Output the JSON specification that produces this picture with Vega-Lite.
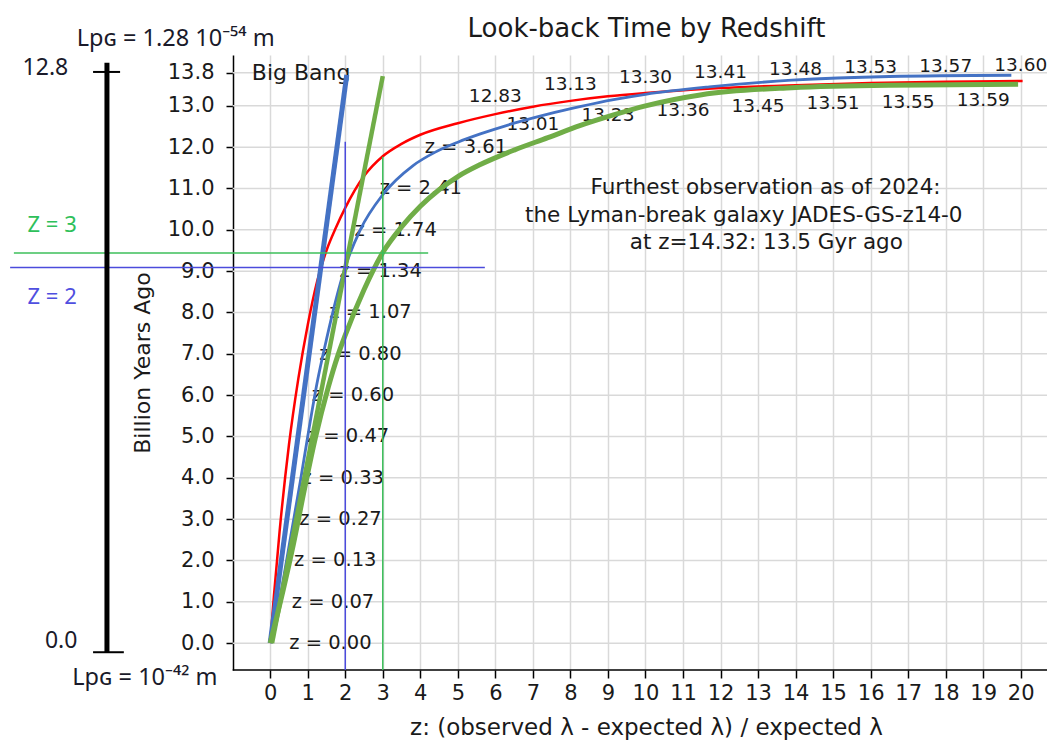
{
  "$schema": "https://vega.github.io/schema/vega-lite/v6.json",
  "width": 1047,
  "height": 615,
  "autosize": {"type": "none"},
  "padding": {"left": 0, "top": 55, "right": 0, "bottom": 70},
  "background": "white",
  "title": {"text": "Look-back Time by Redshift", "frame": "group", "anchor": "middle", "dx": 123, "offset": -15, "fontSize": 26, "font": "DejaVu Sans", "fontWeight": "normal", "color": "#1a1a1a"},
  "config": {"view": {"stroke": null}, "font": "DejaVu Sans"},
  "datasets": {
    "curves": [
      {"s": "red", "z": 0, "t": 0}, {"s": "red", "z": 0.1, "t": 1.15}, {"s": "red", "z": 0.25, "t": 2.7}, {"s": "red", "z": 0.5, "t": 4.8}, {"s": "red", "z": 0.75, "t": 6.4}, {"s": "red", "z": 1.0, "t": 7.7}, {"s": "red", "z": 1.25, "t": 8.75}, {"s": "red", "z": 1.5, "t": 9.5}, {"s": "red", "z": 1.75, "t": 10.05}, {"s": "red", "z": 2.0, "t": 10.53}, {"s": "red", "z": 2.5, "t": 11.3}, {"s": "red", "z": 3.0, "t": 11.78}, {"s": "red", "z": 3.5, "t": 12.08}, {"s": "red", "z": 4.0, "t": 12.3}, {"s": "red", "z": 5.0, "t": 12.58}, {"s": "red", "z": 6.0, "t": 12.8}, {"s": "red", "z": 7.0, "t": 12.98}, {"s": "red", "z": 8.0, "t": 13.12}, {"s": "red", "z": 9.0, "t": 13.23}, {"s": "red", "z": 10.0, "t": 13.31}, {"s": "red", "z": 12.0, "t": 13.43}, {"s": "red", "z": 14.0, "t": 13.5}, {"s": "red", "z": 16.0, "t": 13.55}, {"s": "red", "z": 18.0, "t": 13.58}, {"s": "red", "z": 20.05, "t": 13.6},
      {"s": "blue", "z": 0, "t": 0}, {"s": "blue", "z": 0.3, "t": 1.3}, {"s": "blue", "z": 0.55, "t": 2.6}, {"s": "blue", "z": 0.8, "t": 3.9}, {"s": "blue", "z": 1.0, "t": 5.0}, {"s": "blue", "z": 1.25, "t": 6.3}, {"s": "blue", "z": 1.5, "t": 7.35}, {"s": "blue", "z": 1.75, "t": 8.3}, {"s": "blue", "z": 2.0, "t": 9.1}, {"s": "blue", "z": 2.4, "t": 10.0}, {"s": "blue", "z": 3.0, "t": 10.85}, {"s": "blue", "z": 3.8, "t": 11.55}, {"s": "blue", "z": 4.4, "t": 11.88}, {"s": "blue", "z": 5.0, "t": 12.12}, {"s": "blue", "z": 5.6, "t": 12.32}, {"s": "blue", "z": 6.5, "t": 12.58}, {"s": "blue", "z": 7.4, "t": 12.8}, {"s": "blue", "z": 8.25, "t": 12.98}, {"s": "blue", "z": 9.15, "t": 13.15}, {"s": "blue", "z": 10.0, "t": 13.28}, {"s": "blue", "z": 11.7, "t": 13.46}, {"s": "blue", "z": 13.9, "t": 13.62}, {"s": "blue", "z": 16.5, "t": 13.71}, {"s": "blue", "z": 19.75, "t": 13.74},
      {"s": "green", "z": 0, "t": 0}, {"s": "green", "z": 0.35, "t": 1.3}, {"s": "green", "z": 0.62, "t": 2.4}, {"s": "green", "z": 0.93, "t": 3.8}, {"s": "green", "z": 1.2, "t": 4.95}, {"s": "green", "z": 1.55, "t": 6.2}, {"s": "green", "z": 1.8, "t": 6.95}, {"s": "green", "z": 2.0, "t": 7.45}, {"s": "green", "z": 2.5, "t": 8.55}, {"s": "green", "z": 3.0, "t": 9.45}, {"s": "green", "z": 3.5, "t": 10.07}, {"s": "green", "z": 4.0, "t": 10.57}, {"s": "green", "z": 4.5, "t": 10.97}, {"s": "green", "z": 5.0, "t": 11.29}, {"s": "green", "z": 5.6, "t": 11.58}, {"s": "green", "z": 6.5, "t": 11.93}, {"s": "green", "z": 7.4, "t": 12.23}, {"s": "green", "z": 8.25, "t": 12.52}, {"s": "green", "z": 9.15, "t": 12.78}, {"s": "green", "z": 10.0, "t": 13.0}, {"s": "green", "z": 11.5, "t": 13.27}, {"s": "green", "z": 13.9, "t": 13.44}, {"s": "green", "z": 16.5, "t": 13.5}, {"s": "green", "z": 19.93, "t": 13.52},
      {"s": "blueLine", "z": 0, "t": 0}, {"s": "blueLine", "z": 2.04, "t": 13.75},
      {"s": "greenLine", "z": 0.05, "t": 0}, {"s": "greenLine", "z": 3.0, "t": 13.72}
    ],
    "zlabels": [
      {"z": 0.00, "t": 0, "label": "z = 0.00"}, {"z": 0.07, "t": 1, "label": "z = 0.07"}, {"z": 0.13, "t": 2, "label": "z = 0.13"}, {"z": 0.27, "t": 3, "label": "z = 0.27"}, {"z": 0.33, "t": 4, "label": "z = 0.33"}, {"z": 0.47, "t": 5, "label": "z = 0.47"}, {"z": 0.60, "t": 6, "label": "z = 0.60"}, {"z": 0.80, "t": 7, "label": "z = 0.80"}, {"z": 1.07, "t": 8, "label": "z = 1.07"}, {"z": 1.34, "t": 9, "label": "z = 1.34"}, {"z": 1.74, "t": 10, "label": "z = 1.74"}, {"z": 2.41, "t": 11, "label": "z = 2.41"}, {"z": 3.61, "t": 12, "label": "z = 3.61"}
    ],
    "tlabels": [
      {"z": 6, "t": 12.83, "pos": "above"}, {"z": 7, "t": 13.01, "pos": "below"}, {"z": 8, "t": 13.13, "pos": "above"}, {"z": 9, "t": 13.23, "pos": "below"}, {"z": 10, "t": 13.30, "pos": "above"}, {"z": 11, "t": 13.36, "pos": "below"}, {"z": 12, "t": 13.41, "pos": "above"}, {"z": 13, "t": 13.45, "pos": "below"}, {"z": 14, "t": 13.48, "pos": "above"}, {"z": 15, "t": 13.51, "pos": "below"}, {"z": 16, "t": 13.53, "pos": "above"}, {"z": 17, "t": 13.55, "pos": "below"}, {"z": 18, "t": 13.57, "pos": "above"}, {"z": 19, "t": 13.59, "pos": "below"}, {"z": 20, "t": 13.60, "pos": "above"}
    ],
    "note": [
      {"z": 13.2, "t": 11.01, "label": "Furthest observation as of 2024:"},
      {"z": 12.62, "t": 10.34, "label": "the Lyman-break galaxy JADES-GS-z14-0"},
      {"z": 13.22, "t": 9.68, "label": "at z=14.32: 13.5 Gyr ago"}
    ],
    "gridY": [
      {"t": 0, "z": -1, "z2": 20.7}, {"t": 1, "z": -1, "z2": 20.7}, {"t": 2, "z": -1, "z2": 20.7}, {"t": 3, "z": -1, "z2": 20.7}, {"t": 4, "z": -1, "z2": 20.7}, {"t": 5, "z": -1, "z2": 20.7}, {"t": 6, "z": -1, "z2": 20.7}, {"t": 7, "z": -1, "z2": 20.7}, {"t": 8, "z": -1, "z2": 20.7}, {"t": 9, "z": -1, "z2": 20.7}, {"t": 10, "z": -1, "z2": 20.7}, {"t": 11, "z": -1, "z2": 20.7}, {"t": 12, "z": -1, "z2": 20.7}, {"t": 13, "z": -1, "z2": 20.7}, {"t": 13.8, "z": -1, "z2": 20.7}
    ],
    "xAxisLine": [{"t": -0.65, "z": -1, "z2": 20.7}],
    "marks": [
      {"k": "green", "z": -6.83, "z2": 4.21, "t": 9.44, "t2": 9.44},
      {"k": "green", "z": 3, "z2": 3, "t": -0.65, "t2": 11.77},
      {"k": "blue", "z": -6.93, "z2": 5.72, "t": 9.09, "t2": 9.09},
      {"k": "blue", "z": 2, "z2": 2, "t": -0.65, "t2": 12.13}
    ],
    "bar": [{"z": -4.35, "z2": -4.35, "t": -0.22, "t2": 14.04}],
    "crossbars": [
      {"z": -4.72, "z2": -4.0, "t": 13.82, "t2": 13.82},
      {"z": -4.72, "z2": -3.9, "t": -0.22, "t2": -0.22}
    ],
    "leftText": [
      {"z": -5.99, "t": 13.92, "label": "12.8", "size": "big"},
      {"z": -5.57, "t": 0.05, "label": "0.0", "size": "big"},
      {"z": -2.52, "t": 14.62, "label": "Lpɢ = 1.28 10⁻⁵⁴ m", "size": "small"},
      {"z": -3.34, "t": -0.85, "label": "Lpɢ = 10⁻⁴² m", "size": "small"}
    ],
    "zmarks": [
      {"z": -5.81, "t": 10.12, "label": "Z = 3", "k": "green"},
      {"z": -5.81, "t": 8.38, "label": "Z = 2", "k": "blue"}
    ]
  },
  "encoding": {
    "x": {
      "field": "z", "type": "quantitative",
      "scale": {"domain": [-7.2, 20.7], "nice": false, "zero": false},
      "axis": {
        "values": [0, 1, 2, 3, 4, 5, 6, 7, 8, 9, 10, 11, 12, 13, 14, 15, 16, 17, 18, 19, 20],
        "format": "d", "domain": false, "grid": true, "gridColor": "#d9d9d9", "gridWidth": 1.5,
        "tickSize": 8, "tickColor": "#000", "tickWidth": 1.5, "labelFontSize": 21, "labelColor": "#1a1a1a", "labelPadding": 4,
        "labelFont": "DejaVu Sans",
        "title": "z: (observed λ - expected λ) / expected λ", "titleFontSize": 23, "titleFontWeight": "normal", "titleColor": "#1a1a1a",
        "titleFont": "DejaVu Sans", "titleX": 646, "titlePadding": 13
      }
    },
    "y": {
      "field": "t", "type": "quantitative",
      "scale": {"domain": [-0.65, 14.23], "nice": false, "zero": false},
      "axis": {
        "values": [0, 1, 2, 3, 4, 5, 6, 7, 8, 9, 10, 11, 12, 13, 13.8],
        "format": ".1f", "offset": -233, "grid": false, "domainColor": "#000", "domainWidth": 1.5,
        "tickSize": 7, "tickColor": "#000", "tickWidth": 1.5, "labelFontSize": 21, "labelColor": "#1a1a1a", "labelPadding": 12,
        "labelFont": "DejaVu Sans",
        "title": "Billion Years Ago", "titleFontSize": 22, "titleFontWeight": "normal", "titleColor": "#1a1a1a",
        "titleFont": "DejaVu Sans", "titlePadding": 13
      }
    }
  },
  "layer": [
    {
      "data": {"name": "gridY"},
      "mark": {"type": "rule", "color": "#d9d9d9", "strokeWidth": 1.5},
      "encoding": {"x2": {"field": "z2"}}
    },
    {
      "data": {"name": "xAxisLine"},
      "mark": {"type": "rule", "color": "#000", "strokeWidth": 1.5},
      "encoding": {"x2": {"field": "z2"}}
    },
    {
      "data": {"name": "zlabels"},
      "mark": {"type": "text", "align": "left", "baseline": "middle", "dx": 19, "fontSize": 19.5, "color": "#1a1a1a", "font": "DejaVu Sans"},
      "encoding": {"text": {"field": "label"}}
    },
    {
      "data": {"name": "tlabels"},
      "transform": [{"filter": "datum.pos == 'above'"}],
      "mark": {"type": "text", "align": "center", "baseline": "middle", "dy": -16.5, "fontSize": 18.5, "color": "#1a1a1a", "font": "DejaVu Sans"},
      "encoding": {"text": {"field": "t", "format": ".2f"}}
    },
    {
      "data": {"name": "tlabels"},
      "transform": [{"filter": "datum.pos == 'below'"}],
      "mark": {"type": "text", "align": "center", "baseline": "middle", "dy": 18.6, "fontSize": 18.5, "color": "#1a1a1a", "font": "DejaVu Sans"},
      "encoding": {"text": {"field": "t", "format": ".2f"}}
    },
    {
      "data": {"values": [{"z": -0.49, "t": 13.8, "label": "Big Bang"}]},
      "mark": {"type": "text", "align": "left", "baseline": "middle", "fontSize": 22, "color": "#1a1a1a", "font": "DejaVu Sans"},
      "encoding": {"text": {"field": "label"}}
    },
    {
      "data": {"name": "note"},
      "mark": {"type": "text", "align": "center", "baseline": "middle", "fontSize": 21.5, "color": "#1a1a1a", "font": "DejaVu Sans"},
      "encoding": {"text": {"field": "label"}}
    },
    {
      "data": {"name": "curves"},
      "transform": [{"filter": "datum.s == 'red'"}],
      "mark": {"type": "line", "color": "#ff0000", "strokeWidth": 2.5, "interpolate": "monotone"}
    },
    {
      "data": {"name": "curves"},
      "transform": [{"filter": "datum.s == 'blue'"}],
      "mark": {"type": "line", "color": "#4472c4", "strokeWidth": 2.8, "interpolate": "monotone"}
    },
    {
      "data": {"name": "curves"},
      "transform": [{"filter": "datum.s == 'blueLine'"}],
      "mark": {"type": "line", "color": "#4472c4", "strokeWidth": 5}
    },
    {
      "data": {"name": "curves"},
      "transform": [{"filter": "datum.s == 'green'"}],
      "mark": {"type": "line", "color": "#70ad47", "strokeWidth": 5, "interpolate": "monotone"}
    },
    {
      "data": {"name": "curves"},
      "transform": [{"filter": "datum.s == 'greenLine'"}],
      "mark": {"type": "line", "color": "#70ad47", "strokeWidth": 4.5}
    },
    {
      "data": {"name": "marks"},
      "transform": [{"filter": "datum.k == 'green'"}],
      "mark": {"type": "rule", "color": "#3cbf5a", "strokeWidth": 1.5},
      "encoding": {"x2": {"field": "z2"}, "y2": {"field": "t2"}}
    },
    {
      "data": {"name": "marks"},
      "transform": [{"filter": "datum.k == 'blue'"}],
      "mark": {"type": "rule", "color": "#4b4bdc", "strokeWidth": 1.5},
      "encoding": {"x2": {"field": "z2"}, "y2": {"field": "t2"}}
    },
    {
      "data": {"name": "bar"},
      "mark": {"type": "rule", "color": "#000", "strokeWidth": 5},
      "encoding": {"x2": {"field": "z2"}, "y2": {"field": "t2"}}
    },
    {
      "data": {"name": "crossbars"},
      "mark": {"type": "rule", "color": "#000", "strokeWidth": 2},
      "encoding": {"x2": {"field": "z2"}, "y2": {"field": "t2"}}
    },
    {
      "data": {"name": "leftText"},
      "transform": [{"filter": "datum.size == 'big'"}],
      "mark": {"type": "text", "align": "center", "baseline": "middle", "fontSize": 23, "color": "#1a1a2a", "font": "Noto Sans"},
      "encoding": {"text": {"field": "label"}}
    },
    {
      "data": {"name": "leftText"},
      "transform": [{"filter": "datum.size == 'small'"}],
      "mark": {"type": "text", "align": "center", "baseline": "middle", "fontSize": 23.5, "color": "#1a1a2a", "font": "Noto Sans"},
      "encoding": {"text": {"field": "label"}}
    },
    {
      "data": {"name": "zmarks"},
      "transform": [{"filter": "datum.k == 'green'"}],
      "mark": {"type": "text", "align": "center", "baseline": "middle", "fontSize": 22, "color": "#2ec05a", "font": "Noto Sans"},
      "encoding": {"text": {"field": "label"}}
    },
    {
      "data": {"name": "zmarks"},
      "transform": [{"filter": "datum.k == 'blue'"}],
      "mark": {"type": "text", "align": "center", "baseline": "middle", "fontSize": 22, "color": "#4f4fe0", "font": "Noto Sans"},
      "encoding": {"text": {"field": "label"}}
    }
  ]
}
